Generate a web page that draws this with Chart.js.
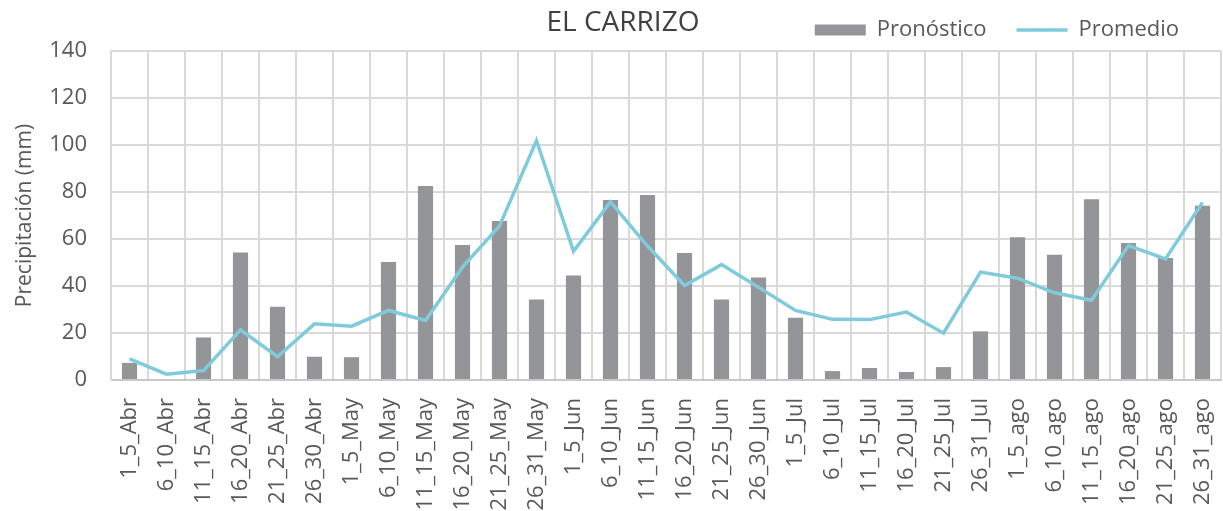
<!DOCTYPE html>
<html>
<head>
<meta charset="utf-8">
<script src="https://cdn.jsdelivr.net/npm/chart.js@4.4.0/dist/chart.umd.min.js"></script>
<style>
  body { margin: 0; background: #fff; }
  #wrap { width: 1223px; height: 511px; }
</style>
</head>
<body>
<div id="wrap"><canvas id="chart" width="1223" height="511"></canvas></div>
<script>
const categories = [
  '1_5_Abr', '6_10_Abr', '11_15_Abr', '16_20_Abr', '21_25_Abr', '26_30_Abr',
  '1_5_May', '6_10_May', '11_15_May', '16_20_May', '21_25_May', '26_31_May',
  '1_5_Jun', '6_10_Jun', '11_15_Jun', '16_20_Jun', '21_25_Jun', '26_30_Jun',
  '1_5_Jul', '6_10_Jul', '11_15_Jul', '16_20_Jul', '21_25_Jul', '26_31_Jul',
  '1_5_ago', '6_10_ago', '11_15_ago', '16_20_ago', '21_25_ago', '26_31_ago'
];
const pronostico = [
  7.3, 0, 18.1, 54.3, 31.2, 9.9,
  9.7, 50.2, 82.6, 57.4, 67.7, 34.3,
  44.5, 76.6, 78.7, 54.0, 34.3, 43.6,
  26.5, 3.8, 5.1, 3.4, 5.5, 20.7,
  60.7, 53.3, 76.9, 58.3, 51.9, 74.2
];
const promedio = [
  9.0, 2.5, 4.0, 21.3, 9.9, 23.9,
  22.9, 29.6, 25.3, 48, 65.6, 101.9,
  54.8, 75.8, 57, 40.2, 49.1, 39.5,
  29.6, 25.8, 25.7, 28.9, 19.9, 45.9,
  43.3, 37.1, 33.9, 57.2, 51.5, 75.5
];
const title = 'EL CARRIZO';

const font = "'Open Sans', 'Noto Sans', sans-serif";
const txt = '#595959';
const grid = '#d9d9d9';

// title sits in the same row as the legend, so draw it ourselves
// and nudge the legend a bit left of the right edge
const titlePlugin = {
  id: 'rowTitle',
  afterLayout(chart) {
    chart.legend.left -= 12;
    chart.legend.right -= 12;
  },
  afterDraw(chart) {
    const c = chart.ctx;
    c.save();
    c.font = "500 28px " + font;
    c.fillStyle = '#404040';
    c.textAlign = 'center';
    c.textBaseline = 'middle';
    c.fillText(title, 623, 23);
    c.restore();
  }
};

const ctx = document.querySelector('#chart').getContext('2d');
new Chart(ctx, {
  data: {
    labels: categories,
    datasets: [{
      type: 'line',
      label: 'Promedio',
      data: promedio,
      borderColor: '#7fcbdc',
      backgroundColor: '#7fcbdc',
      borderWidth: 3.5,
      pointRadius: 0,
      pointStyle: 'line',
      tension: 0,
      order: 0
    }, {
      type: 'bar',
      label: 'Pronóstico',
      data: pronostico,
      backgroundColor: '#939598',
      pointStyle: 'rect',
      barPercentage: 0.41,
      categoryPercentage: 1,
      order: 1
    }]
  },
  options: {
    responsive: false,
    animation: false,
    devicePixelRatio: 1,
    layout: { padding: { left: 0, right: 2, top: -11, bottom: 0 } },
    plugins: {
      tooltip: { enabled: false },
      legend: {
        position: 'top',
        align: 'end',
        reverse: true,
        labels: {
          usePointStyle: true,
          pointStyleWidth: 51,
          boxHeight: 11,
          padding: 30,
          color: txt,
          font: { family: font, size: 22 }
        }
      }
    },
    scales: {
      x: {
        grid: { color: grid, lineWidth: 2, drawTicks: false, offset: true },
        border: { color: '#c8c8c8', width: 2 },
        ticks: {
          color: txt,
          font: { family: font, size: 22 },
          minRotation: 90,
          maxRotation: 90,
          autoSkip: false,
          padding: 18
        },
        afterFit(scale) {
          scale.height = 131;
          scale.paddingLeft = 0;
          scale.paddingRight = 0;
        }
      },
      y: {
        min: 0,
        max: 140,
        grid: { color: grid, lineWidth: 2, drawTicks: false },
        border: { color: grid, width: 2 },
        ticks: {
          stepSize: 20,
          color: txt,
          font: { family: font, size: 22 },
          padding: 24
        },
        title: {
          display: true,
          text: 'Precipitación (mm)',
          color: txt,
          font: { family: font, size: 21 },
          padding: { top: 12, bottom: 0 }
        },
        afterFit(scale) { scale.width = 111; }
      }
    }
  },
  plugins: [titlePlugin]
});
</script>
</body>
</html>
